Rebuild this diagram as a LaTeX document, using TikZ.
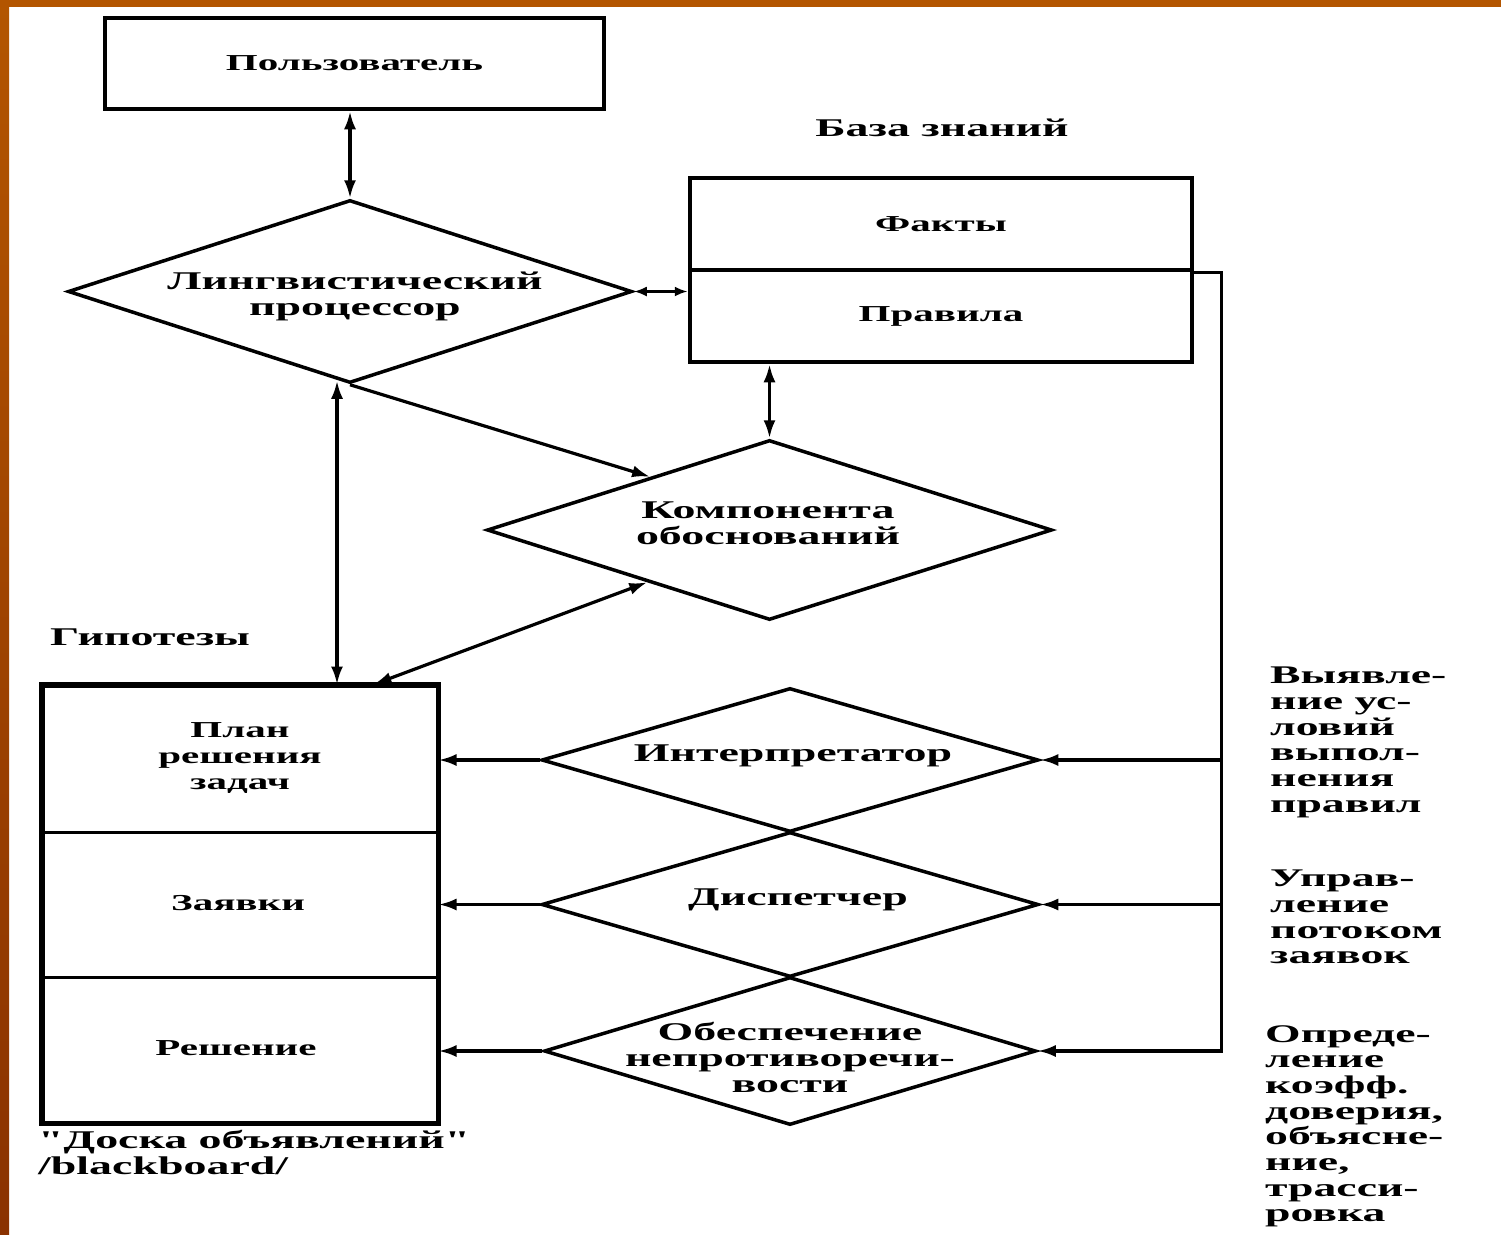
\documentclass[tikz,border=0pt]{standalone}
\usepackage{fontspec}
\setmainfont{Liberation Serif}[FakeStretch=1.8]
\newfontfamily\plainquotes{Liberation Serif}[FakeStretch=1.8]
\usetikzlibrary{shapes.geometric,arrows.meta,calc}
\definecolor{slideor}{HTML}{B35500}
\definecolor{slideord}{HTML}{8A3200}
\begin{document}
\begin{tikzpicture}[x=1pt,y=-1pt,
  box/.style={draw, line width=4.5pt, rectangle, inner sep=0pt},
  dia/.style={draw, line width=3.5pt, diamond, inner sep=0pt},
  big/.style={font=\fontsize{25.5}{26}\selectfont\bfseries, align=center, inner sep=0pt},
  small/.style={font=\fontsize{22.8}{26}\selectfont\bfseries, align=center, inner sep=0pt},
  note/.style={font=\fontsize{25.4}{25.7}\selectfont\bfseries, align=left, inner sep=0pt, anchor=north west},
  conn/.style={line width=3.2pt},
  onearrow/.style={conn, -{Latex[length=18pt,width=12pt]}},
  twoarrow/.style={conn, {Latex[length=18pt,width=12pt]}-{Latex[length=18pt,width=12pt]}},
  twosmall/.style={conn, {Latex[length=13pt,width=10pt]}-{Latex[length=13pt,width=10pt]}}
]
\useasboundingbox (0,0) rectangle (1501,1234);
\fill[white] (0,0) rectangle (1501,1234);
\fill[slideor] (0,0) rectangle (1501,7);
\shade[top color=slideor, bottom color=slideord] (0,0) rectangle (9,1234);

% user
\node[box, minimum width=499pt, minimum height=91pt] (polz) at (354.5,63.5) {};
\node[small] (polzT) at (polz) {Пользователь};

% linguistic processor
\node[dia, minimum width=564pt, minimum height=183pt] (lp) at (350,291.5) {};
\node[big] (lpT) at (355,296) {Лингвистический\\процессор};

% knowledge base
\node[big] (bzT) at (942,128) {База знаний};
\node[box, minimum width=502pt, minimum height=92pt] (fakty) at (941,224) {};
\node[box, minimum width=502pt, minimum height=92pt] (pravila) at (941,316) {};
\node[small] (faktyT) at (fakty) {Факты};
\node[small] (pravilaT) at (pravila) {Правила};

% justification component
\node[dia, minimum width=565pt, minimum height=180pt] (komp) at (769.5,530) {};
\node[big] (kompT) at (768,523) {Компонента\\обоснований};

% hypotheses / blackboard
\node[big, anchor=west] (gipT) at (50,637) {Гипотезы};
\node[draw, line width=3pt, inner sep=0pt, minimum width=394pt, minimum height=146pt] (plan) at (240,759) {};
\node[draw, line width=3pt, inner sep=0pt, minimum width=394pt, minimum height=145pt] (zay) at (240,904.5) {};
\node[draw, line width=3pt, inner sep=0pt, minimum width=394pt, minimum height=145pt] (resh) at (240,1049.5) {};
\draw[line width=5.5pt] (plan.north west) rectangle (resh.south east);
\node[small] (planT) at (240,758) {План\\решения\\задач};
\node[small] (zayT) at (238,903) {Заявки};
\node[small] (reshT) at (236,1048) {Решение};
\node[big, anchor=north west, align=left] (capT) at (38,1130) {\plainquotes\bfseries "Доска объявлений"\\/blackboard/};

% lower diamonds
\node[dia, minimum width=497pt, minimum height=144pt] (int) at (790,760) {};
\node[dia, minimum width=497pt, minimum height=145pt] (disp) at (790,904.5) {};
\node[dia, minimum width=492pt, minimum height=148pt] (obesp) at (790,1051) {};
\node[big] (intT) at (793,756) {Интерпретатор};
\node[big] (dispT) at (798,900) {Диспетчер};
\node[big] (obespT) at (790,1057) {Обеспечение\\непротиворечи-\\вости};

% side notes
\node[note] (n1) at (1270,667) {Выявле-\\ние ус-\\ловий\\выпол-\\нения\\правил};
\node[note] (n2) at (1270,870) {Управ-\\ление\\потоком\\заявок};
\node[note] (n3) at (1265,1025) {Опреде-\\ление\\коэфф.\\доверия,\\объясне-\\ние,\\трасси-\\ровка};

% connectors
\draw[twoarrow] (lp.north |- polz.south) -- (lp.north);
\draw[twosmall] (lp.east) -- (lp.east -| pravila.west);
\draw[twoarrow] (komp.north |- pravila.south) -- (komp.north);
\draw[onearrow] (lp.south) -- ($(komp.west)!0.58!(komp.north)$);
\coordinate (vA) at ($(lp.south)+(-13,-4)$);
\draw[twoarrow] (vA) -- (vA |- plan.north);
\coordinate (kA) at ($(komp.west)!0.57!(komp.south)$);
\coordinate (pB) at ($(plan.north east)+(-65,0)$);
\draw[twoarrow] (kA) -- (pB);

\coordinate (rc) at ($(fakty.south east)+(27,0)$);
\draw[onearrow] (fakty.south east) -- (rc) -- (rc |- obesp.east) -- (obesp.east);
\draw[onearrow] (rc |- int.east) -- (int.east);
\draw[onearrow] (rc |- disp.east) -- (disp.east);

\draw[onearrow] (int.west) -- (int.west -| plan.east);
\draw[onearrow] (disp.west) -- (disp.west -| zay.east);
\draw[onearrow] (obesp.west) -- (obesp.west -| resh.east);
\end{tikzpicture}
\end{document}
